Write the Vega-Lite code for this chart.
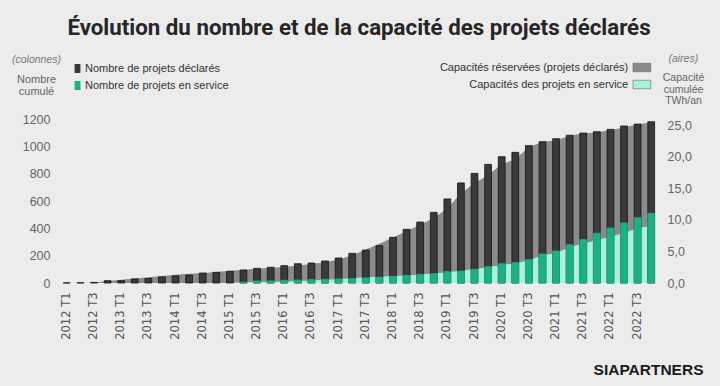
{
  "$schema": "https://vega.github.io/schema/vega-lite/v6.json",
  "width": 598,
  "height": 164,
  "autosize": {"type": "none"},
  "padding": {"left": 60, "top": 119, "right": 62, "bottom": 103},
  "background": "#ececec",
  "config": {
    "view": {"stroke": null},
    "font": "Liberation Sans",
    "axis": {"grid": false, "domain": false, "ticks": false, "labelColor": "#666666", "titleColor": "#666666", "titleFontWeight": "normal"}
  },
  "title": {
    "text": "Évolution du nombre et de la capacité des projets déclarés",
    "font": "Roboto",
    "fontSize": 22.3,
    "fontWeight": "bold",
    "color": "#262626",
    "anchor": "middle",
    "frame": "group",
    "offset": 23
  },
  "datasets": {
    "bars": [
      {"q": "2012 T1", "serie": "Nombre de projets déclarés", "n": 1},
      {"q": "2012 T2", "serie": "Nombre de projets déclarés", "n": 2},
      {"q": "2012 T3", "serie": "Nombre de projets déclarés", "n": 4},
      {"q": "2012 T4", "serie": "Nombre de projets déclarés", "n": 17},
      {"q": "2013 T1", "serie": "Nombre de projets déclarés", "n": 17},
      {"q": "2013 T2", "serie": "Nombre de projets déclarés", "n": 30},
      {"q": "2013 T3", "serie": "Nombre de projets déclarés", "n": 33},
      {"q": "2013 T4", "serie": "Nombre de projets déclarés", "n": 45},
      {"q": "2014 T1", "serie": "Nombre de projets déclarés", "n": 52},
      {"q": "2014 T2", "serie": "Nombre de projets déclarés", "n": 58},
      {"q": "2014 T3", "serie": "Nombre de projets déclarés", "n": 73},
      {"q": "2014 T4", "serie": "Nombre de projets déclarés", "n": 78},
      {"q": "2015 T1", "serie": "Nombre de projets déclarés", "n": 85},
      {"q": "2015 T2", "serie": "Nombre de projets déclarés", "n": 95},
      {"q": "2015 T3", "serie": "Nombre de projets déclarés", "n": 107},
      {"q": "2015 T4", "serie": "Nombre de projets déclarés", "n": 115},
      {"q": "2016 T1", "serie": "Nombre de projets déclarés", "n": 127},
      {"q": "2016 T2", "serie": "Nombre de projets déclarés", "n": 141},
      {"q": "2016 T3", "serie": "Nombre de projets déclarés", "n": 146},
      {"q": "2016 T4", "serie": "Nombre de projets déclarés", "n": 161},
      {"q": "2017 T1", "serie": "Nombre de projets déclarés", "n": 183},
      {"q": "2017 T2", "serie": "Nombre de projets déclarés", "n": 217},
      {"q": "2017 T3", "serie": "Nombre de projets déclarés", "n": 241},
      {"q": "2017 T4", "serie": "Nombre de projets déclarés", "n": 273},
      {"q": "2018 T1", "serie": "Nombre de projets déclarés", "n": 334},
      {"q": "2018 T2", "serie": "Nombre de projets déclarés", "n": 393},
      {"q": "2018 T3", "serie": "Nombre de projets déclarés", "n": 446},
      {"q": "2018 T4", "serie": "Nombre de projets déclarés", "n": 517},
      {"q": "2019 T1", "serie": "Nombre de projets déclarés", "n": 615},
      {"q": "2019 T2", "serie": "Nombre de projets déclarés", "n": 732},
      {"q": "2019 T3", "serie": "Nombre de projets déclarés", "n": 802},
      {"q": "2019 T4", "serie": "Nombre de projets déclarés", "n": 868},
      {"q": "2020 T1", "serie": "Nombre de projets déclarés", "n": 924},
      {"q": "2020 T2", "serie": "Nombre de projets déclarés", "n": 956},
      {"q": "2020 T3", "serie": "Nombre de projets déclarés", "n": 1005},
      {"q": "2020 T4", "serie": "Nombre de projets déclarés", "n": 1034},
      {"q": "2021 T1", "serie": "Nombre de projets déclarés", "n": 1056},
      {"q": "2021 T2", "serie": "Nombre de projets déclarés", "n": 1081},
      {"q": "2021 T3", "serie": "Nombre de projets déclarés", "n": 1097},
      {"q": "2021 T4", "serie": "Nombre de projets déclarés", "n": 1107},
      {"q": "2022 T1", "serie": "Nombre de projets déclarés", "n": 1124},
      {"q": "2022 T2", "serie": "Nombre de projets déclarés", "n": 1149},
      {"q": "2022 T3", "serie": "Nombre de projets déclarés", "n": 1163},
      {"q": "2022 T4", "serie": "Nombre de projets déclarés", "n": 1180},
      {"q": "2015 T2", "serie": "Nombre de projets en service", "n": 5},
      {"q": "2015 T3", "serie": "Nombre de projets en service", "n": 15},
      {"q": "2015 T4", "serie": "Nombre de projets en service", "n": 15},
      {"q": "2016 T1", "serie": "Nombre de projets en service", "n": 20},
      {"q": "2016 T2", "serie": "Nombre de projets en service", "n": 22},
      {"q": "2016 T3", "serie": "Nombre de projets en service", "n": 25},
      {"q": "2016 T4", "serie": "Nombre de projets en service", "n": 27},
      {"q": "2017 T1", "serie": "Nombre de projets en service", "n": 30},
      {"q": "2017 T2", "serie": "Nombre de projets en service", "n": 32},
      {"q": "2017 T3", "serie": "Nombre de projets en service", "n": 37},
      {"q": "2017 T4", "serie": "Nombre de projets en service", "n": 42},
      {"q": "2018 T1", "serie": "Nombre de projets en service", "n": 49},
      {"q": "2018 T2", "serie": "Nombre de projets en service", "n": 56},
      {"q": "2018 T3", "serie": "Nombre de projets en service", "n": 64},
      {"q": "2018 T4", "serie": "Nombre de projets en service", "n": 68},
      {"q": "2019 T1", "serie": "Nombre de projets en service", "n": 83},
      {"q": "2019 T2", "serie": "Nombre de projets en service", "n": 88},
      {"q": "2019 T3", "serie": "Nombre de projets en service", "n": 100},
      {"q": "2019 T4", "serie": "Nombre de projets en service", "n": 119},
      {"q": "2020 T1", "serie": "Nombre de projets en service", "n": 141},
      {"q": "2020 T2", "serie": "Nombre de projets en service", "n": 149},
      {"q": "2020 T3", "serie": "Nombre de projets en service", "n": 171},
      {"q": "2020 T4", "serie": "Nombre de projets en service", "n": 212},
      {"q": "2021 T1", "serie": "Nombre de projets en service", "n": 234},
      {"q": "2021 T2", "serie": "Nombre de projets en service", "n": 280},
      {"q": "2021 T3", "serie": "Nombre de projets en service", "n": 317},
      {"q": "2021 T4", "serie": "Nombre de projets en service", "n": 364},
      {"q": "2022 T1", "serie": "Nombre de projets en service", "n": 402},
      {"q": "2022 T2", "serie": "Nombre de projets en service", "n": 439},
      {"q": "2022 T3", "serie": "Nombre de projets en service", "n": 478},
      {"q": "2022 T4", "serie": "Nombre de projets en service", "n": 510}
    ],
    "areas": [
      {"q": "2012 T1", "serie": "Capacités réservées (projets déclarés)", "c": 0},
      {"q": "2012 T2", "serie": "Capacités réservées (projets déclarés)", "c": 0},
      {"q": "2012 T3", "serie": "Capacités réservées (projets déclarés)", "c": 0.05},
      {"q": "2012 T4", "serie": "Capacités réservées (projets déclarés)", "c": 0.3},
      {"q": "2013 T1", "serie": "Capacités réservées (projets déclarés)", "c": 0.5},
      {"q": "2013 T2", "serie": "Capacités réservées (projets déclarés)", "c": 0.7},
      {"q": "2013 T3", "serie": "Capacités réservées (projets déclarés)", "c": 0.9},
      {"q": "2013 T4", "serie": "Capacités réservées (projets déclarés)", "c": 1.1},
      {"q": "2014 T1", "serie": "Capacités réservées (projets déclarés)", "c": 1.3},
      {"q": "2014 T2", "serie": "Capacités réservées (projets déclarés)", "c": 1.45},
      {"q": "2014 T3", "serie": "Capacités réservées (projets déclarés)", "c": 1.6},
      {"q": "2014 T4", "serie": "Capacités réservées (projets déclarés)", "c": 1.75},
      {"q": "2015 T1", "serie": "Capacités réservées (projets déclarés)", "c": 1.95},
      {"q": "2015 T2", "serie": "Capacités réservées (projets déclarés)", "c": 2.1},
      {"q": "2015 T3", "serie": "Capacités réservées (projets déclarés)", "c": 2.25},
      {"q": "2015 T4", "serie": "Capacités réservées (projets déclarés)", "c": 2.4},
      {"q": "2016 T1", "serie": "Capacités réservées (projets déclarés)", "c": 2.55},
      {"q": "2016 T2", "serie": "Capacités réservées (projets déclarés)", "c": 2.75},
      {"q": "2016 T3", "serie": "Capacités réservées (projets déclarés)", "c": 3.0},
      {"q": "2016 T4", "serie": "Capacités réservées (projets déclarés)", "c": 3.3},
      {"q": "2017 T1", "serie": "Capacités réservées (projets déclarés)", "c": 3.7},
      {"q": "2017 T2", "serie": "Capacités réservées (projets déclarés)", "c": 4.4},
      {"q": "2017 T3", "serie": "Capacités réservées (projets déclarés)", "c": 5.3},
      {"q": "2017 T4", "serie": "Capacités réservées (projets déclarés)", "c": 6.2},
      {"q": "2018 T1", "serie": "Capacités réservées (projets déclarés)", "c": 7.2},
      {"q": "2018 T2", "serie": "Capacités réservées (projets déclarés)", "c": 8.2},
      {"q": "2018 T3", "serie": "Capacités réservées (projets déclarés)", "c": 9.2},
      {"q": "2018 T4", "serie": "Capacités réservées (projets déclarés)", "c": 10.3},
      {"q": "2019 T1", "serie": "Capacités réservées (projets déclarés)", "c": 11.8},
      {"q": "2019 T2", "serie": "Capacités réservées (projets déclarés)", "c": 14.2},
      {"q": "2019 T3", "serie": "Capacités réservées (projets déclarés)", "c": 15.8},
      {"q": "2019 T4", "serie": "Capacités réservées (projets déclarés)", "c": 17.1},
      {"q": "2020 T1", "serie": "Capacités réservées (projets déclarés)", "c": 18.8},
      {"q": "2020 T2", "serie": "Capacités réservées (projets déclarés)", "c": 19.6},
      {"q": "2020 T3", "serie": "Capacités réservées (projets déclarés)", "c": 21.5},
      {"q": "2020 T4", "serie": "Capacités réservées (projets déclarés)", "c": 22.3},
      {"q": "2021 T1", "serie": "Capacités réservées (projets déclarés)", "c": 22.6},
      {"q": "2021 T2", "serie": "Capacités réservées (projets déclarés)", "c": 23.3},
      {"q": "2021 T3", "serie": "Capacités réservées (projets déclarés)", "c": 23.7},
      {"q": "2021 T4", "serie": "Capacités réservées (projets déclarés)", "c": 23.8},
      {"q": "2022 T1", "serie": "Capacités réservées (projets déclarés)", "c": 24.2},
      {"q": "2022 T2", "serie": "Capacités réservées (projets déclarés)", "c": 24.6},
      {"q": "2022 T3", "serie": "Capacités réservées (projets déclarés)", "c": 25.1},
      {"q": "2022 T4", "serie": "Capacités réservées (projets déclarés)", "c": 25.4},
      {"q": "2012 T1", "serie": "Capacités des projets en service", "c": 0},
      {"q": "2012 T2", "serie": "Capacités des projets en service", "c": 0},
      {"q": "2012 T3", "serie": "Capacités des projets en service", "c": 0},
      {"q": "2012 T4", "serie": "Capacités des projets en service", "c": 0},
      {"q": "2013 T1", "serie": "Capacités des projets en service", "c": 0},
      {"q": "2013 T2", "serie": "Capacités des projets en service", "c": 0},
      {"q": "2013 T3", "serie": "Capacités des projets en service", "c": 0},
      {"q": "2013 T4", "serie": "Capacités des projets en service", "c": 0},
      {"q": "2014 T1", "serie": "Capacités des projets en service", "c": 0},
      {"q": "2014 T2", "serie": "Capacités des projets en service", "c": 0},
      {"q": "2014 T3", "serie": "Capacités des projets en service", "c": 0},
      {"q": "2014 T4", "serie": "Capacités des projets en service", "c": 0},
      {"q": "2015 T1", "serie": "Capacités des projets en service", "c": 0},
      {"q": "2015 T2", "serie": "Capacités des projets en service", "c": 0.1},
      {"q": "2015 T3", "serie": "Capacités des projets en service", "c": 0.15},
      {"q": "2015 T4", "serie": "Capacités des projets en service", "c": 0.2},
      {"q": "2016 T1", "serie": "Capacités des projets en service", "c": 0.25},
      {"q": "2016 T2", "serie": "Capacités des projets en service", "c": 0.3},
      {"q": "2016 T3", "serie": "Capacités des projets en service", "c": 0.4},
      {"q": "2016 T4", "serie": "Capacités des projets en service", "c": 0.5},
      {"q": "2017 T1", "serie": "Capacités des projets en service", "c": 0.6},
      {"q": "2017 T2", "serie": "Capacités des projets en service", "c": 0.75},
      {"q": "2017 T3", "serie": "Capacités des projets en service", "c": 0.9},
      {"q": "2017 T4", "serie": "Capacités des projets en service", "c": 1.0},
      {"q": "2018 T1", "serie": "Capacités des projets en service", "c": 1.1},
      {"q": "2018 T2", "serie": "Capacités des projets en service", "c": 1.2},
      {"q": "2018 T3", "serie": "Capacités des projets en service", "c": 1.35},
      {"q": "2018 T4", "serie": "Capacités des projets en service", "c": 1.5},
      {"q": "2019 T1", "serie": "Capacités des projets en service", "c": 1.7},
      {"q": "2019 T2", "serie": "Capacités des projets en service", "c": 1.95},
      {"q": "2019 T3", "serie": "Capacités des projets en service", "c": 2.2},
      {"q": "2019 T4", "serie": "Capacités des projets en service", "c": 2.5},
      {"q": "2020 T1", "serie": "Capacités des projets en service", "c": 2.85},
      {"q": "2020 T2", "serie": "Capacités des projets en service", "c": 3.1},
      {"q": "2020 T3", "serie": "Capacités des projets en service", "c": 3.6},
      {"q": "2020 T4", "serie": "Capacités des projets en service", "c": 4.4},
      {"q": "2021 T1", "serie": "Capacités des projets en service", "c": 4.7},
      {"q": "2021 T2", "serie": "Capacités des projets en service", "c": 5.7},
      {"q": "2021 T3", "serie": "Capacités des projets en service", "c": 6.2},
      {"q": "2021 T4", "serie": "Capacités des projets en service", "c": 6.8},
      {"q": "2022 T1", "serie": "Capacités des projets en service", "c": 7.3},
      {"q": "2022 T2", "serie": "Capacités des projets en service", "c": 7.9},
      {"q": "2022 T3", "serie": "Capacités des projets en service", "c": 8.7},
      {"q": "2022 T4", "serie": "Capacités des projets en service", "c": 9.0}
    ]
  },
  "encoding": {
    "x": {
      "field": "q",
      "type": "ordinal",
      "sort": null,
      "scale": {"paddingInner": 0.5, "paddingOuter": 0.25},
      "axis": {
        "values": ["2012 T1","2012 T3","2013 T1","2013 T3","2014 T1","2014 T3","2015 T1","2015 T3","2016 T1","2016 T3","2017 T1","2017 T3","2018 T1","2018 T3","2019 T1","2019 T3","2020 T1","2020 T3","2021 T1","2021 T3","2022 T1","2022 T3"],
        "labelAngle": -90,
        "labelFont": "DejaVu Sans",
        "labelFontSize": 11.5,
        "labelColor": "#555555",
        "labelPadding": 9,
        "title": "SIAPARTNERS",
        "titleFont": "Liberation Sans",
        "titleFontSize": 15.5,
        "titleFontWeight": "bold",
        "titleColor": "#1a1a1a",
        "titleAngle": 0,
        "titleAlign": "right",
        "titleBaseline": "middle",
        "titleX": 643,
        "titleY": 86
      }
    }
  },
  "layer": [
    {
      "data": {"name": "areas"},
      "mark": {"type": "area", "interpolate": "linear"},
      "encoding": {
        "x": {"field": "q", "type": "ordinal", "sort": null, "bandPosition": 0.5},
        "y": {
          "field": "c",
          "type": "quantitative",
          "stack": null,
          "scale": {"domain": [0, 25.95], "nice": false},
          "axis": {
            "orient": "right",
            "values": [0, 5, 10, 15, 20, 25],
            "labelExpr": "replace(format(datum.value, '.1f'), '.', ',')",
            "labelFontSize": 12.5,
            "labelPadding": 9,
            "title": ["Capacité", "cumulée", "TWh/an"],
            "titleFontSize": 10.5,
            "titleAngle": 0,
            "titleAlign": "center",
            "titleBaseline": "alphabetic",
            "titleLineHeight": 11.7,
            "titleX": 25,
            "titleY": -38.5
          }
        },
        "color": {
          "field": "serie",
          "type": "nominal",
          "scale": {
            "domain": ["Capacités réservées (projets déclarés)", "Capacités des projets en service"],
            "range": ["#8a8a8a", "#a8f2dc"]
          },
          "legend": {
            "orient": "none",
            "legendX": 576.4,
            "legendY": -57,
            "title": "(aires)",
            "titleOrient": "right",
            "titleAnchor": "start",
            "titleBaseline": "alphabetic",
            "titleFontStyle": "italic",
            "titleFontWeight": "normal",
            "titleFontSize": 10.5,
            "titleColor": "#777777",
            "titlePadding": 16,
            "labelFontSize": 11,
            "labelColor": "#333333",
            "labelAlign": "right",
            "labelOffset": -19.2,
            "labelLimit": 300,
            "symbolType": "M-2.1,-1L2.1,-1L2.1,1L-2.1,1Z",
            "symbolSize": 72,
            "symbolStrokeWidth": 0.6,
            "symbolStrokeColor": "#666666",
            "symbolOpacity": 1,
            "rowPadding": 5
          }
        },
        "order": {"field": "serie", "sort": "descending"}
      }
    },
    {
      "data": {"name": "bars"},
      "mark": {"type": "bar", "strokeWidth": 0.8},
      "encoding": {
        "y": {
          "field": "n",
          "type": "quantitative",
          "stack": null,
          "scale": {"domain": [0, 1200], "nice": false},
          "axis": {
            "orient": "left",
            "values": [0, 200, 400, 600, 800, 1000, 1200],
            "format": "d",
            "labelFontSize": 12.5,
            "labelPadding": 10,
            "title": ["Nombre", "cumulé"],
            "titleFontSize": 11,
            "titleAngle": 0,
            "titleAlign": "center",
            "titleBaseline": "alphabetic",
            "titleLineHeight": 12.4,
            "titleX": -24,
            "titleY": -36.7
          }
        },
        "color": {
          "field": "serie",
          "type": "nominal",
          "scale": {
            "domain": ["Nombre de projets déclarés", "Nombre de projets en service"],
            "range": ["#3a3a3a", "#1bb085"]
          },
          "legend": {
            "orient": "none",
            "legendX": -48,
            "legendY": -56,
            "title": "(colonnes)",
            "titleOrient": "left",
            "titleAnchor": "start",
            "titleBaseline": "alphabetic",
            "titleFontStyle": "italic",
            "titleFontWeight": "normal",
            "titleFontSize": 10.5,
            "titleColor": "#777777",
            "titlePadding": 10,
            "labelFontSize": 11,
            "labelColor": "#333333",
            "labelLimit": 300,
            "labelOffset": 2,
            "symbolType": "M-0.65,-1L0.65,-1L0.65,1L-0.65,1Z",
            "symbolSize": 81,
            "symbolOpacity": 1,
            "rowPadding": 5
          }
        },
        "stroke": {
          "field": "serie",
          "type": "nominal",
          "scale": {
            "domain": ["Nombre de projets déclarés", "Nombre de projets en service"],
            "range": ["#141414", "#1bb085"]
          },
          "legend": null
        }
      }
    }
  ],
  "resolve": {"scale": {"y": "independent", "color": "independent"}}
}
